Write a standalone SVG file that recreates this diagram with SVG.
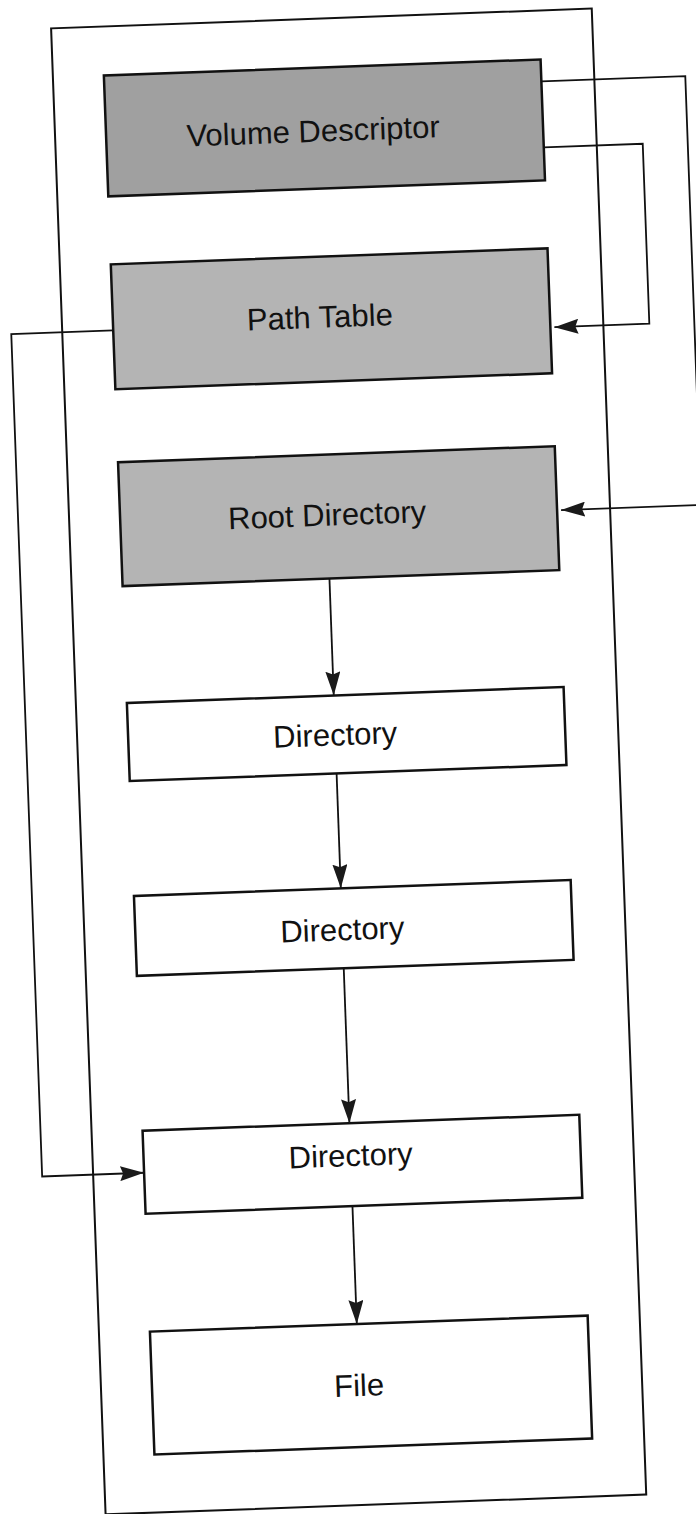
<svg xmlns="http://www.w3.org/2000/svg" width="696" height="1514" viewBox="0 0 696 1514">
<defs>
<style>
.frame{fill:none;stroke:#111;stroke-width:2}
.box{stroke:#111;stroke-width:2.5}
.shadeA{fill:#a0a0a0}
.shadeB{fill:#b4b4b4}
.plain{fill:#fff}
.lbl{font-family:"Liberation Sans",Arial,Helvetica,sans-serif;font-size:31px;fill:#111;text-anchor:middle}
.conn{fill:none;stroke:#111;stroke-width:1.8}
</style>
<marker id="arr" viewBox="0 0 24 15" refX="24" refY="7.5" markerWidth="24" markerHeight="15" markerUnits="userSpaceOnUse" orient="auto">
<path d="M0,0 L24,7.5 L0,15 L3,7.5 z" fill="#1a1a1a"/>
</marker>
</defs>
<rect x="0" y="0" width="696" height="1514" fill="#fff"/>
<g transform="rotate(-2.1 348 757)">
<g id="frame"><rect class="frame" x="78" y="18" width="541" height="1487"/></g>
<g id="volume-descriptor"><rect class="box shadeA" x="129" y="67" width="437" height="121"/><text class="lbl" x="336" y="141">Volume Descriptor</text></g>
<g id="path-table"><rect class="box shadeB" x="129" y="256" width="437" height="125"/><text class="lbl" x="336" y="327">Path Table</text></g>
<g id="root-directory"><rect class="box shadeB" x="129" y="454" width="437" height="124"/><text class="lbl" x="336" y="525">Root Directory</text></g>
<g id="directory-1"><rect class="box plain" x="129" y="695" width="437" height="78"/><text class="lbl" x="336" y="745">Directory</text></g>
<g id="directory-2"><rect class="box plain" x="129" y="888" width="437" height="80"/><text class="lbl" x="336" y="940">Directory</text></g>
<g id="directory-3"><rect class="box plain" x="129" y="1123" width="437" height="83"/><text class="lbl" x="336" y="1166">Directory</text></g>
<g id="file"><rect class="box plain" x="129" y="1324" width="438" height="123"/><text class="lbl" x="336" y="1396">File</text></g>
<g id="connectors">
<path class="conn" d="M566,89 H710 V518 H570" marker-end="url(#arr)"/>
<path class="conn" d="M566,155 H665 V335 H570" marker-end="url(#arr)"/>
<path class="conn" d="M129,322 H27 V1165 H129" marker-end="url(#arr)"/>
<path class="conn" d="M336,578 V695" marker-end="url(#arr)"/>
<path class="conn" d="M336,773 V888" marker-end="url(#arr)"/>
<path class="conn" d="M336,968 V1123" marker-end="url(#arr)"/>
<path class="conn" d="M336,1206 V1324" marker-end="url(#arr)"/>
</g>
</g>
</svg>
